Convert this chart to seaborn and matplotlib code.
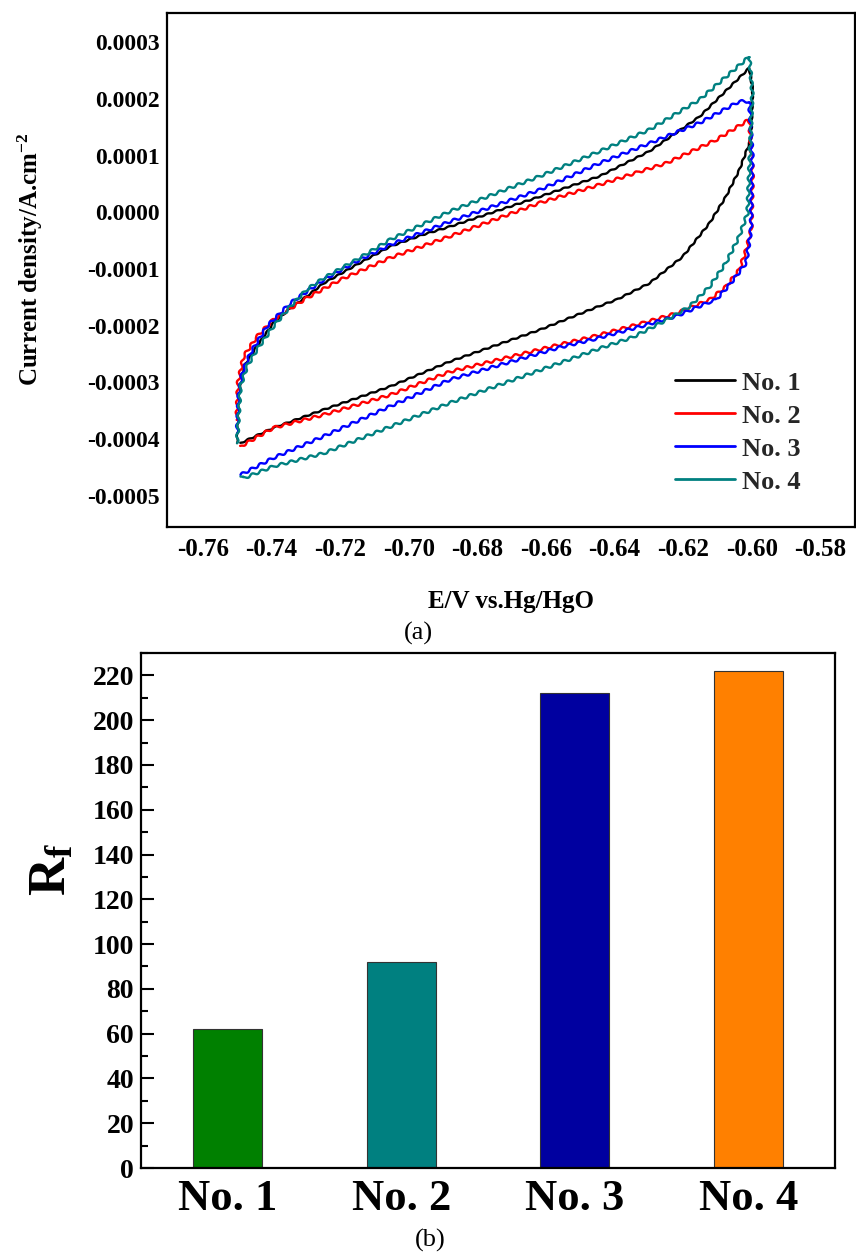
import matplotlib
matplotlib.use("Agg")
import matplotlib.pyplot as plt
from matplotlib.lines import Line2D
from matplotlib.ticker import MultipleLocator, FuncFormatter, AutoMinorLocator
import pandas as pd
import seaborn as sns

# ---------------- data ----------------
UNIT = 1e-4  # current values below are in units of 1e-4 A/cm^2

# No. 1 (closed loop: anodic branch -0.75 -> -0.60, then cathodic back)
e_no1 = [-0.7500, -0.7493, -0.7481, -0.7442, -0.7394, -0.7345, -0.7297, -0.7248, -0.7151,
         -0.7054, -0.6958, -0.6880, -0.6618, -0.6444, -0.6299, -0.6153, -0.6008,
         -0.5998, -0.6003, -0.6037, -0.6076, -0.6124, -0.6202, -0.6299, -0.6395, -0.6444,
         -0.6618, -0.6880, -0.7054, -0.7248, -0.7394, -0.7490]
i_no1 = [-4.07, -3.20, -2.72, -2.36, -1.95, -1.69, -1.48, -1.25, -0.92,
         -0.60, -0.39, -0.25, 0.28, 0.64, 1.08, 1.69, 2.55,
         2.17, 1.30, 0.75, 0.28, -0.19, -0.78, -1.25, -1.54, -1.65,
         -2.07, -2.63, -3.07, -3.48, -3.80, -4.07]

# No. 2
e_no2 = [-0.7501, -0.7497, -0.7481, -0.7442, -0.7394, -0.7297, -0.7200, -0.7054, -0.6880,
         -0.6618, -0.6444, -0.6328, -0.6250, -0.6105, -0.6008,
         -0.5998, -0.6002, -0.6017, -0.6037, -0.6076, -0.6124, -0.6221, -0.6318, -0.6463,
         -0.6560, -0.6880, -0.7054, -0.7248, -0.7394, -0.7490]
i_no2 = [-3.66, -3.00, -2.54, -2.19, -1.89, -1.51, -1.19, -0.80, -0.42,
         0.17, 0.49, 0.72, 0.87, 1.28, 1.64,
         0.70, -0.30, -0.66, -1.01, -1.31, -1.54, -1.78, -1.95, -2.19,
         -2.33, -2.81, -3.22, -3.57, -3.80, -4.13]

# No. 3
e_no3 = [-0.7500, -0.7495, -0.7485, -0.7461, -0.7413, -0.7345, -0.7248, -0.7151, -0.7054,
         -0.6880, -0.6618, -0.6444, -0.6299, -0.6153, -0.6037, -0.6008,
         -0.5999, -0.6003, -0.6017, -0.6037, -0.6066, -0.6105, -0.6124, -0.6221, -0.6318,
         -0.6463, -0.6560, -0.6880, -0.7054, -0.7248, -0.7394, -0.7490]
i_no3 = [-3.90, -3.20, -2.83, -2.48, -2.01, -1.60, -1.19, -0.86, -0.57,
         -0.16, 0.40, 0.87, 1.22, 1.58, 1.96, 1.96,
         1.00, -0.31, -0.89, -1.05, -1.28, -1.54, -1.58, -1.83, -2.00,
         -2.24, -2.38, -2.95, -3.42, -3.95, -4.33, -4.63]

# No. 4
e_no4 = [-0.7500, -0.7490, -0.7471, -0.7442, -0.7394, -0.7345, -0.7297, -0.7248, -0.7151,
         -0.7054, -0.6880, -0.6618, -0.6444, -0.6299, -0.6153, -0.6008,
         -0.5999, -0.6013, -0.6037, -0.6076, -0.6124, -0.6182, -0.6250, -0.6347, -0.6444,
         -0.6880, -0.7054, -0.7248, -0.7394, -0.7481, -0.7490]
i_no4 = [-4.07, -3.07, -2.72, -2.42, -2.01, -1.66, -1.36, -1.16, -0.83,
         -0.48, 0.02, 0.64, 1.08, 1.46, 1.99, 2.75,
         2.11, -0.01, -0.42, -0.89, -1.31, -1.66, -1.90, -2.20, -2.40,
         -3.36, -3.78, -4.25, -4.48, -4.69, -4.66]

series_labels = ["No. 1", "No. 2", "No. 3", "No. 4"]
line_colors = ["#000000", "#FF0000", "#0000FF", "#008080"]

# Bar chart
bar_categories = ["No. 1", "No. 2", "No. 3", "No. 4"]
rf_values = [62, 92, 212, 222]
bar_colors = ["#008000", "#008080", "#0000A0", "#FF8000"]

# ---------------- style ----------------
sns.set_theme(style="white")
plt.rcParams["font.family"] = ["Liberation Serif", "DejaVu Serif"]
plt.rcParams["font.weight"] = "bold"
plt.rcParams["axes.unicode_minus"] = False
plt.rcParams["mathtext.fontset"] = "custom"
plt.rcParams["mathtext.rm"] = "Liberation Serif:bold"
plt.rcParams["mathtext.bf"] = "Liberation Serif:bold"
plt.rcParams["mathtext.it"] = "Liberation Serif:bold:italic"
plt.rcParams["mathtext.default"] = "rm"

W, H = 856, 1254
fig = plt.figure(figsize=(W / 100, H / 100), dpi=100)

# ---------------- panel (a) ----------------
ax1 = fig.add_axes([167 / W, 1 - 527 / H, (855 - 167) / W, (527 - 13) / H])
curves = [(e_no1, i_no1), (e_no2, i_no2), (e_no3, i_no3), (e_no4, i_no4)]
sketch_amp = [0.6, 1.3, 1.3, 1.3]
for (e, i), lab, col, amp in zip(curves, series_labels, line_colors, sketch_amp):
    df = pd.DataFrame({"E": e, "I": [v * UNIT for v in i]})
    n_before = len(ax1.lines)
    sns.lineplot(data=df, x="E", y="I", sort=False, estimator=None, color=col,
                 linewidth=1.7, ax=ax1, legend=False)
    for ln in ax1.lines[n_before:]:
        ln.set_sketch_params(scale=amp, length=10, randomness=1)

ax1.set_xlim(-0.7704, -0.5700)
ax1.set_ylim(-0.000555, 0.000352)
ax1.xaxis.set_major_locator(MultipleLocator(0.02))
ax1.xaxis.set_minor_locator(AutoMinorLocator(2))
ax1.yaxis.set_major_locator(MultipleLocator(1e-4))
ax1.yaxis.set_minor_locator(AutoMinorLocator(2))
ax1.xaxis.set_major_formatter(FuncFormatter(lambda v, p: f"{round(v, 2):.2f}"))
ax1.yaxis.set_major_formatter(FuncFormatter(lambda v, p: f"{round(v, 6) + 0.0:.4f}"))
ax1.tick_params(which="both", direction="in", top=False, right=False, width=1.5,
                color="black", labelcolor="black")
ax1.tick_params(which="major", length=8)
ax1.tick_params(which="minor", length=5)
ax1.tick_params(axis="y", which="major", labelsize=17, pad=5)
ax1.tick_params(axis="x", which="major", labelsize=18, pad=8)
for lbl in ax1.get_xticklabels() + ax1.get_yticklabels():
    lbl.set_fontweight("bold")
for s in ax1.spines.values():
    s.set_visible(True)
    s.set_color("black")
    s.set_linewidth(1.6)

ax1.set_xlabel("E/V vs.Hg/HgO", fontsize=18, fontweight="bold", color="black")
ax1.set_ylabel("Current density/A.cm$^{-2}$", fontsize=18, fontweight="bold", color="black")
ax1.xaxis.set_label_coords(0.5, -0.122)
ax1.yaxis.set_label_coords(-0.178, 0.52)

handles = [Line2D([], [], color=c, linewidth=2.0) for c in line_colors]
ax1.legend(handles, series_labels, loc="center left", bbox_to_anchor=(0.738, 0.184),
           frameon=False, handlelength=2.3, handletextpad=0.25,
           labelspacing=0.36, borderpad=0, borderaxespad=0,
           prop={"weight": "bold", "size": 19})

fig.text(418 / W, 1 - 633 / H, "(a)", ha="center", va="center", fontsize=19,
         fontweight="normal", color="black")

# ---------------- panel (b) ----------------
ax2 = fig.add_axes([141 / W, 1 - 1168 / H, (835 - 141) / W, (1168 - 653) / H])
bdf = pd.DataFrame({"cat": bar_categories, "rf": rf_values})
sns.barplot(data=bdf, x="cat", y="rf", hue="cat", palette=bar_colors, width=0.4,
            saturation=1, edgecolor="#333333", linewidth=0.8, legend=False, ax=ax2)
ax2.set_xlim(-0.5, 3.5)
ax2.set_ylim(0, 230)
ax2.yaxis.set_major_locator(MultipleLocator(20))
ax2.yaxis.set_minor_locator(MultipleLocator(10))
ax2.tick_params(axis="y", which="both", direction="in", right=False, width=1.5,
                color="black", labelcolor="black", labelsize=20, pad=5, left=True)
ax2.tick_params(axis="y", which="major", length=9)
ax2.tick_params(axis="y", which="minor", length=5)
ax2.tick_params(axis="x", which="both", length=0, labelsize=32, pad=8, labelcolor="black")
for lbl in ax2.get_xticklabels() + ax2.get_yticklabels():
    lbl.set_fontweight("bold")
for s in ax2.spines.values():
    s.set_visible(True)
    s.set_color("black")
    s.set_linewidth(1.6)
ax2.set_xlabel("")
ax2.set_ylabel("R$_{f}$", fontsize=38, fontweight="bold", color="black")
ax2.yaxis.set_label_coords(-0.092, 0.58)

fig.text(430 / W, 1 - 1240 / H, "(b)", ha="center", va="center", fontsize=19,
         fontweight="normal", color="black")

fig.savefig("out.png", dpi=100)
